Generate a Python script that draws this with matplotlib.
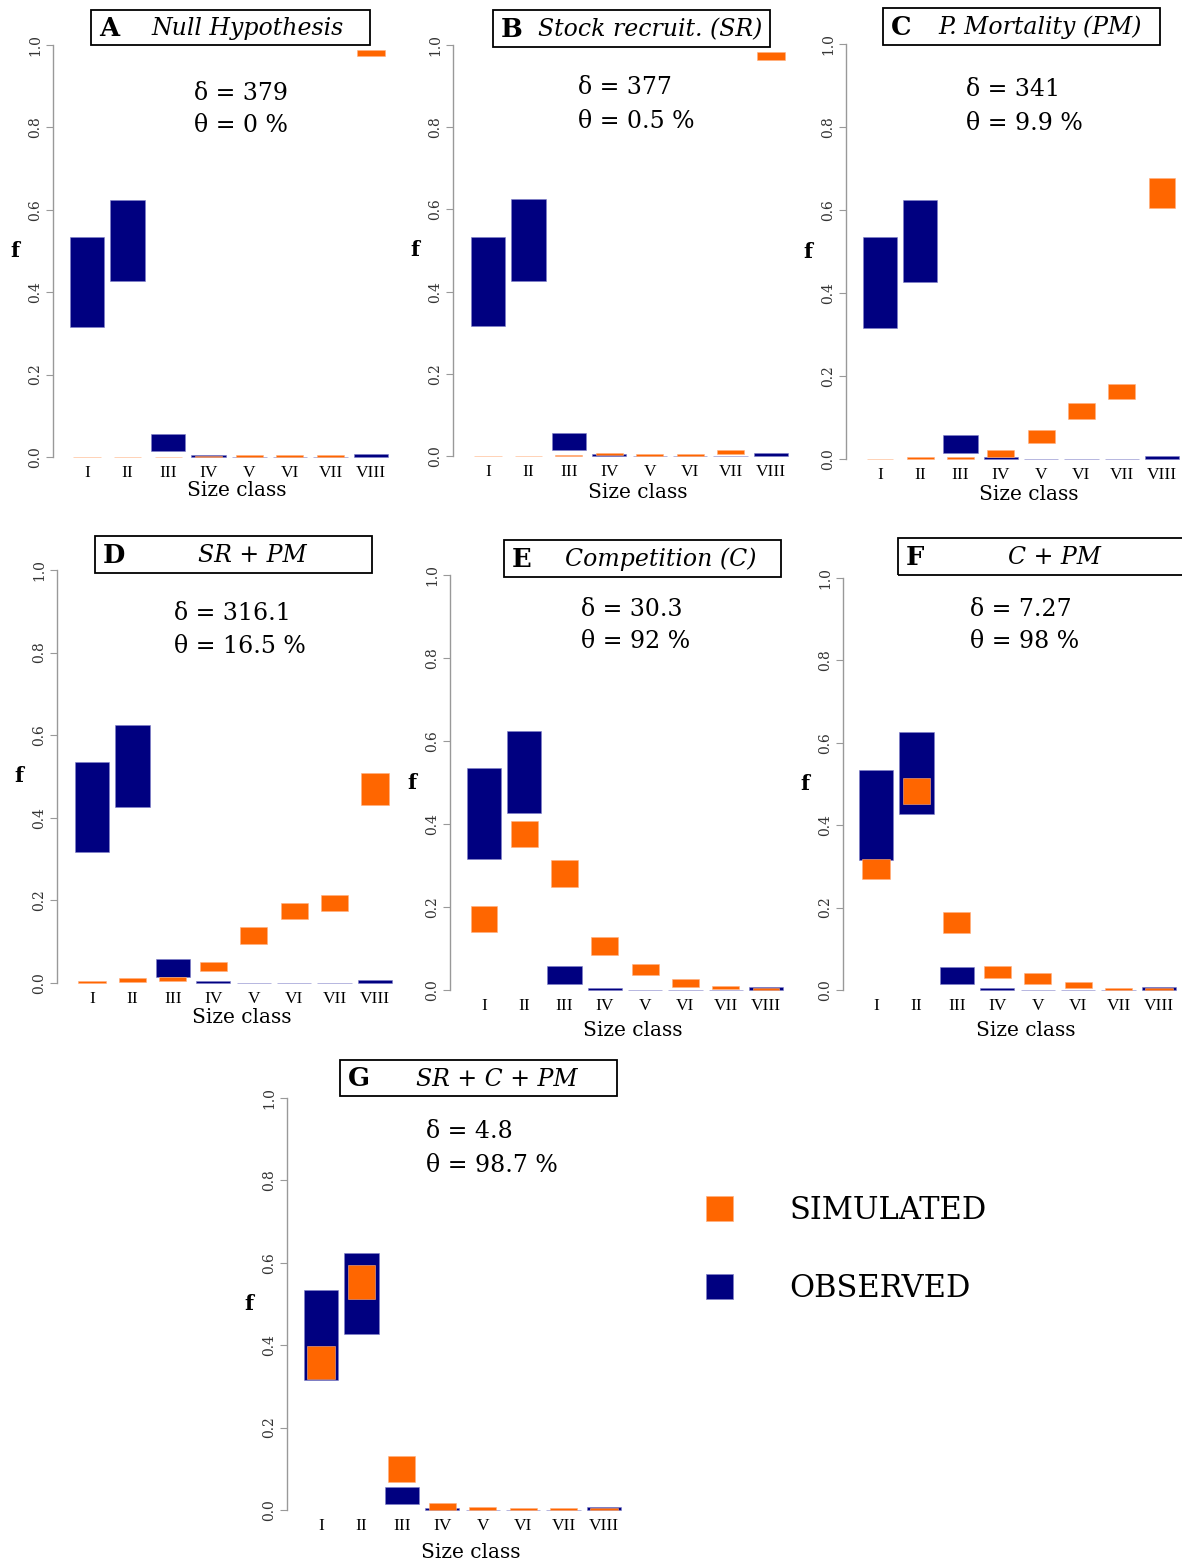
import matplotlib.pyplot as plt
from matplotlib.patches import Patch, Rectangle

# size classes on the x axis
classes = ['I', 'II', 'III', 'IV', 'V', 'VI', 'VII', 'VIII']

# observed range of f per size class (same in every panel)
obs_lo = [0.316, 0.427, 0.015, 0.000, 0.000, 0.000, 0.000, 0.001]
obs_hi = [0.534, 0.625, 0.057, 0.005, 0.001, 0.001, 0.001, 0.007]

# simulated range of f per size class, one pair per model
sim_lo_A = [0.000, 0.000, 0.000, 0.000, 0.001, 0.001, 0.001, 0.973]
sim_hi_A = [0.001, 0.001, 0.001, 0.003, 0.006, 0.004, 0.005, 0.988]
sim_lo_B = [0.000, 0.000, 0.000, 0.002, 0.001, 0.001, 0.004, 0.963]
sim_hi_B = [0.001, 0.001, 0.003, 0.007, 0.006, 0.005, 0.015, 0.984]
sim_lo_C = [0.000, 0.001, 0.001, 0.006, 0.039, 0.096, 0.144, 0.604]
sim_hi_C = [0.001, 0.004, 0.005, 0.022, 0.070, 0.136, 0.181, 0.676]
sim_lo_D = [0.001, 0.003, 0.005, 0.030, 0.094, 0.154, 0.175, 0.430]
sim_hi_D = [0.005, 0.011, 0.015, 0.052, 0.136, 0.194, 0.213, 0.508]
sim_lo_E = [0.139, 0.344, 0.249, 0.085, 0.035, 0.008, 0.002, 0.000]
sim_hi_E = [0.202, 0.408, 0.313, 0.128, 0.062, 0.027, 0.010, 0.004]
sim_lo_F = [0.269, 0.451, 0.138, 0.030, 0.014, 0.006, 0.001, 0.001]
sim_hi_F = [0.319, 0.515, 0.189, 0.059, 0.041, 0.019, 0.006, 0.004]
sim_lo_G = [0.319, 0.513, 0.069, 0.000, 0.001, 0.001, 0.001, 0.001]
sim_hi_G = [0.398, 0.594, 0.132, 0.016, 0.007, 0.005, 0.005, 0.005]

letters = ['A', 'B', 'C', 'D', 'E', 'F', 'G']
models = ['Null Hypothesis', 'Stock recruit. (SR)', 'P. Mortality (PM)',
          'SR + PM', 'Competition (C)', 'C + PM', 'SR + C + PM']
deltas = ['379', '377', '341', '316.1', '30.3', '7.27', '4.8']
thetas = ['0', '0.5', '9.9', '16.5', '92', '98', '98.7']

sim_lo = [sim_lo_A, sim_lo_B, sim_lo_C, sim_lo_D, sim_lo_E, sim_lo_F, sim_lo_G]
sim_hi = [sim_hi_A, sim_hi_B, sim_hi_C, sim_hi_D, sim_hi_E, sim_hi_F, sim_hi_G]

NAVY = '#000080'
ORANGE = '#ff6600'

W, H = 1182, 1564

# pixel layout: spine x, class I x, class VIII x, y of 1.0, y of 0.0,
# title box (x0, x1, y0, y1), stats text (x, y), label gaps
layout = [
    (53, 87, 371, 45, 457, (91, 370, 10, 45), (194, 93), 34),
    (453, 488, 771, 45, 456, (493, 770, 10, 47), (578, 88), 36),
    (846, 880, 1162, 44, 459, (883, 1160, 8, 45), (966, 90), 35),
    (57, 92, 375, 570, 983, (95, 372, 536, 573), (174, 613), 35),
    (450, 484, 766, 575, 990, (504, 781, 540, 577), (581, 609), 41),
    (843, 876, 1159, 578, 990, (898, 1190, 538, 575), (970, 609), 41),
    (287, 321, 604, 1098, 1510, (340, 617, 1060, 1096), (426, 1132), 43),
]


def fx(px):
    return px / W


def fy(py):
    return 1 - py / H


fig = plt.figure(figsize=(W / 100, H / 100), dpi=100)
pos = list(range(1, 9))

for k in range(7):
    spine, x1, x8, ytop, ybot, box, stats, gap = layout[k]
    unit = (x8 - x1) / 7
    left_val = 1 - (x1 - spine) / unit
    right_px = x8 + 0.55 * unit
    ax = fig.add_axes([fx(spine), fy(ybot), (right_px - spine) / W, (ybot - ytop) / H])
    ax.patch.set_visible(False)

    obs_h = [h - l for l, h in zip(obs_lo, obs_hi)]
    sim_h = [h - l for l, h in zip(sim_lo[k], sim_hi[k])]
    ax.bar(pos, obs_h, bottom=obs_lo, width=0.85, color=NAVY,
           edgecolor='#8080c8', linewidth=0.4, clip_on=False)
    ax.bar(pos, sim_h, bottom=sim_lo[k], width=0.67, color=ORANGE,
           edgecolor='#ffb080', linewidth=0.4, clip_on=False)

    ax.set_xlim(left_val, 8.55)
    ax.set_ylim(0, 1)
    for s in ['top', 'right', 'bottom']:
        ax.spines[s].set_visible(False)
    ax.spines['left'].set_color('#999999')
    ax.spines['left'].set_linewidth(1.0)

    ax.set_yticks([0, 0.2, 0.4, 0.6, 0.8, 1.0])
    ax.set_yticklabels(['0.0', '0.2', '0.4', '0.6', '0.8', '1.0'], rotation=90,
                       va='center', family='DejaVu Serif', fontsize=10, color='#333333')
    ax.tick_params(axis='y', direction='out', length=5, color='#999999', pad=3)
    ax.set_xticks(pos)
    ax.set_xticklabels(classes, family='Liberation Serif', fontsize=12.5)
    ax.tick_params(axis='x', length=0, pad=6)

    ax.text(4.7, -gap / (ybot - ytop), 'Size class', transform=ax.get_xaxis_transform(),
            ha='center', va='center', family='DejaVu Serif', fontsize=14.5)
    fig.text(fx(spine - 38), fy((ytop + ybot) / 2), 'f', ha='center', va='center',
             family='DejaVu Serif', fontweight='bold', fontsize=15)

    # statistics
    sx, sy = stats
    fig.text(fx(sx), fy(sy), '\u03b4 = ' + deltas[k], ha='left', va='center',
             family='DejaVu Serif', fontsize=17)
    fig.text(fx(sx), fy(sy + 33), '\u03b8 = ' + thetas[k] + ' %', ha='left', va='center',
             family='DejaVu Serif', fontsize=17)

    # title box
    bx0, bx1, by0, by1 = box
    fig.add_artist(Rectangle((fx(bx0), fy(by1)), (bx1 - bx0) / W, (by1 - by0) / H,
                             transform=fig.transFigure, fill=False,
                             edgecolor='black', linewidth=1.3))
    fig.text(fx(bx0 + 8), fy((by0 + by1) / 2 + 1), letters[k], ha='left', va='center',
             family='DejaVu Serif', fontweight='bold', fontsize=18.5)
    fig.text(fx(bx0 + 157), fy((by0 + by1) / 2 + 1), models[k], ha='center', va='center',
             family='DejaVu Serif', style='italic', fontsize=17)

handles = [Patch(facecolor=ORANGE, edgecolor='#ffb080', linewidth=0.5),
           Patch(facecolor=NAVY, edgecolor='#8080c8', linewidth=0.5)]
fig.legend(handles, ['SIMULATED', 'OBSERVED'], loc='upper left',
           bbox_to_anchor=(fx(706), fy(1195)), frameon=False, borderpad=0,
           borderaxespad=0, handlelength=0.88, handleheight=0.88,
           handletextpad=1.85, labelspacing=1.55,
           prop={'family': 'DejaVu Serif', 'size': 22})

fig.savefig('out.png', dpi=100)
